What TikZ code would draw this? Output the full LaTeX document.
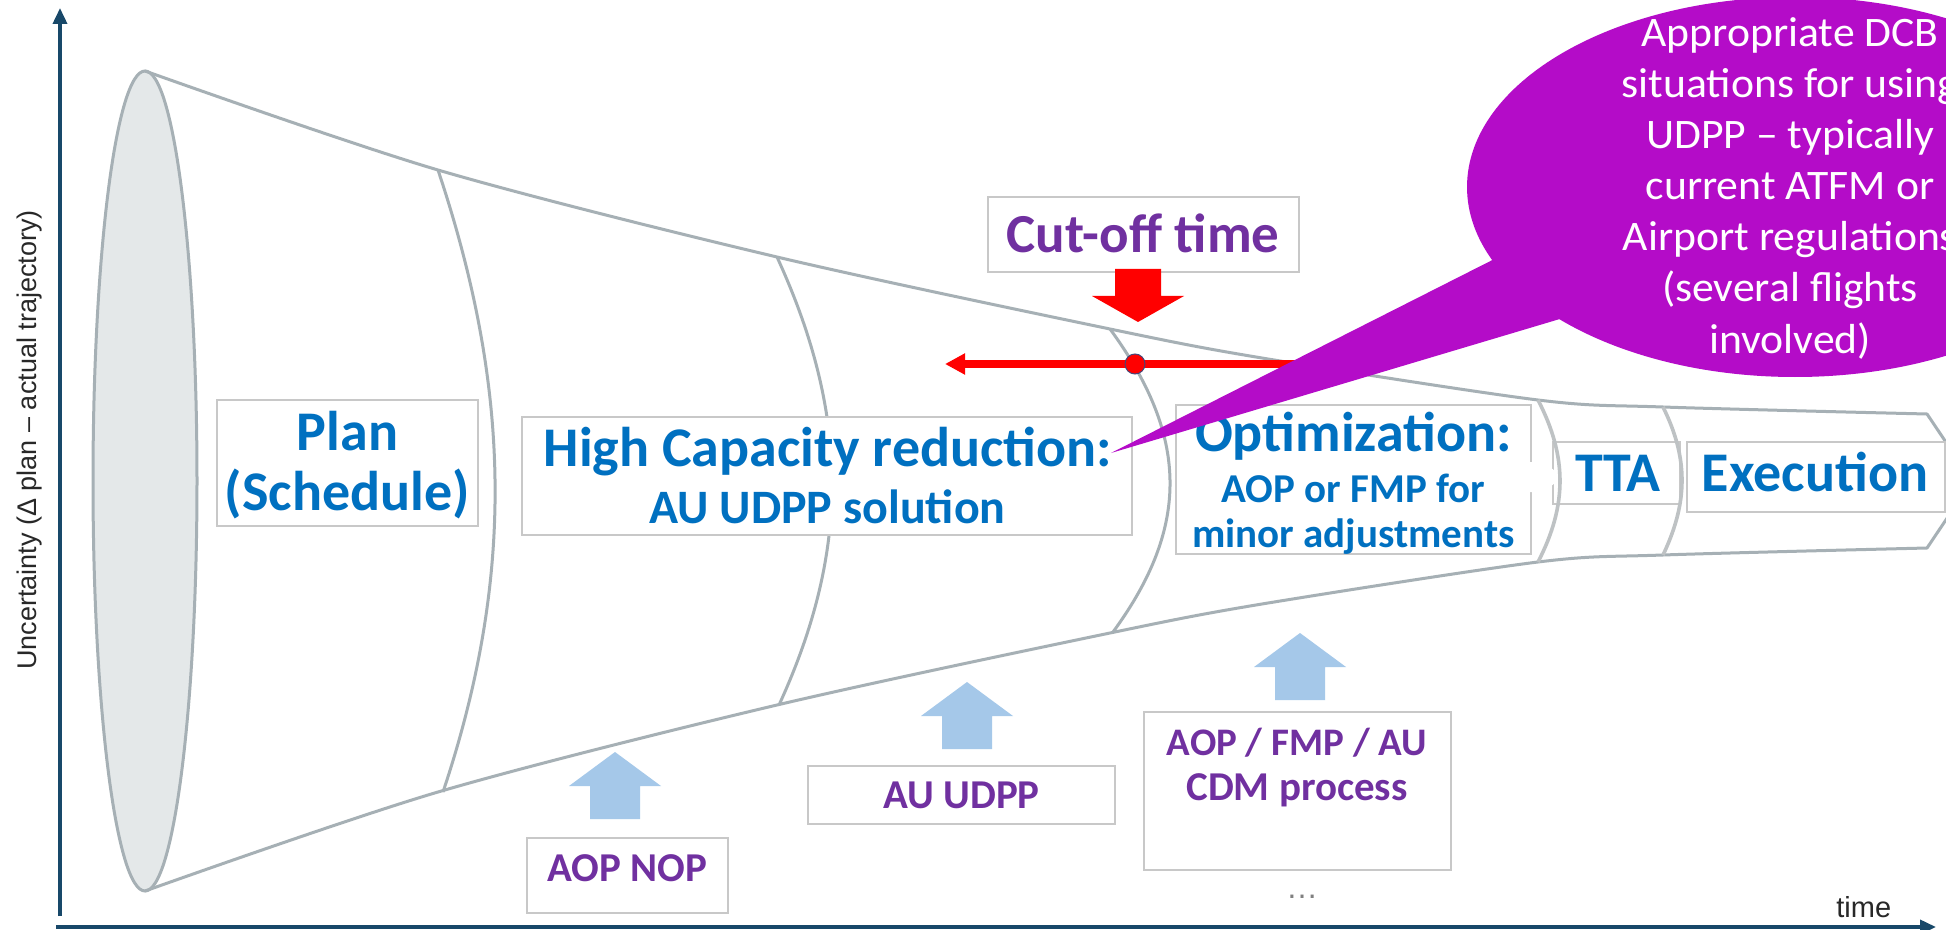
\documentclass[tikz,border=0pt]{standalone}
\usepackage{fontspec}
\setmainfont{Carlito}
\newfontfamily\axisfont{Liberation Sans}
\newfontfamily\callfont[FakeStretch=1.04]{Carlito}
\usetikzlibrary{arrows.meta,shapes.geometric,fit}

\definecolor{axisblue}{RGB}{24,72,105}
\definecolor{funnelgray}{RGB}{166,176,181}
\definecolor{ringgray}{RGB}{190,194,196}
\definecolor{mouthfill}{RGB}{228,232,233}
\definecolor{boxline}{RGB}{200,200,200}
\definecolor{labelblue}{RGB}{0,112,192}
\definecolor{labelpurple}{RGB}{112,48,160}
\definecolor{calloutpurple}{RGB}{180,12,200}
\definecolor{inputblue}{RGB}{165,200,233}
\definecolor{dotline}{RGB}{70,70,120}
\definecolor{axistext}{RGB}{40,40,40}

\begin{document}
\begin{tikzpicture}[x=0.5pt,y=-0.5pt,
  box/.style={draw=boxline, line width=0.75pt, fill=white, inner sep=0pt},
  funnel/.style={draw=funnelgray, line width=1.5pt},
  ring/.style={draw=funnelgray, line width=1.5pt},
  lightring/.style={draw=ringgray, line width=1.8pt},
  axis/.style={draw=axisblue, line width=1.8pt, -{Triangle[length=8pt,width=7pt]}},
  axislabel/.style={font=\axisfont\fontsize{13.5}{16}\selectfont, text=axistext, inner sep=0pt},
  bluebig/.style={font=\fontsize{28}{31}\selectfont\bfseries, text=labelblue, inner sep=0pt, anchor=base},
  bluemid/.style={font=\fontsize{24}{28}\selectfont\bfseries, text=labelblue, inner sep=0pt, anchor=base},
  bluesmall/.style={font=\fontsize{20.5}{24}\selectfont\bfseries, text=labelblue, inner sep=0pt, anchor=base},
  purplebig/.style={font=\fontsize{27.5}{30}\selectfont\bfseries, text=labelpurple, inner sep=0pt, anchor=base},
  purplesmall/.style={font=\fontsize{20.5}{24}\selectfont\bfseries, text=labelpurple, inner sep=0pt, anchor=base},
  calltext/.style={font=\callfont\fontsize{21}{25}\selectfont, text=white, inner sep=0pt, anchor=base},
  inarrow/.pic={\fill[inputblue] (0,0) -- (46,34) -- (25,34) -- (25,67) -- (-25,67) -- (-25,34) -- (-46,34) -- cycle;}
]
\useasboundingbox (0,0) rectangle (1946,930);
\fill[white] (0,0) rectangle (1946,930);
\clip (0,0) rectangle (1946,930);

% funnel mouth and outline
\node[ellipse, draw=funnelgray, line width=1.5pt, fill=mouthfill, minimum width=52pt, minimum height=410pt, inner sep=0pt] (mouth) at (145,481) {};
\draw[funnel, line join=round]
  plot[smooth] coordinates {(145,71) (438,170) (777,257) (1110,329) (1262,358) (1538,400) (1663,407) (1927,414)}
  -- (1972,481) --
  plot[smooth] coordinates {(1927,548) (1663,555) (1538,562) (1262,604) (1110,633) (777,705) (438,792) (145,891)};

% phase dividers
\draw[ring] (438,170) .. controls (510.7,387.7) and (515.7,574.3) .. (443,792);
\draw[ring] (777,257) .. controls (849,413.8) and (851,548.2) .. (779,705);
\draw[ring] (1110,329) .. controls (1188,435.4) and (1191,525.6) .. (1113,632);

% phase boxes
\node[box, fit={(217,400) (478,526)}] (planbox) {};
\node[box, fit={(522,417) (1132,535)}] (hcrbox) {};
\node[box, fit={(988,197) (1299,272)}] (cutbox) {};
\node[box, fit={(1176,405) (1531,554)}] (optbox) {};
\node[box, fit={(1553,442) (1680,504)}] (ttabox) {};
\node[box, fit={(1687,442) (1945,512)}] (execbox) {};
\node[box, fit={(527,838) (728,913)}] (nopbox) {};
\node[box, fit={(808,766) (1115,824)}] (udppbox) {};
\node[box, fit={(1144,712) (1451,870)}] (cdmbox) {};

% later dividers and the small white notch
\fill[white] (1524,462) -- (1545,462) -- (1561,477) -- (1545,492) -- (1524,492) -- cycle;
\draw[lightring] (1538,400) .. controls (1567.3,456.7) and (1567.3,505.3) .. (1538,562);
\draw[lightring] (1663,407) .. controls (1688.3,458.1) and (1688.3,501.9) .. (1663,555);
\fill[white] (1530,464) -- (1545,464) -- (1557,477) -- (1545,490) -- (1530,490) -- cycle;

% phase labels
\node[bluebig] (plan1) at (347.5,450) {Plan};
\node[bluebig] (plan2) at (347.5,510) {(Schedule)};
\node[bluebig] (hcr1) at (828,466.5) {High Capacity reduction:};
\node[bluemid] (hcr2) at (827.5,523) {AU UDPP solution};
\node[bluebig] (opt1) at (1353.5,451) {Optimization:};
\node[bluesmall] (opt2) at (1353.5,502) {AOP or FMP for};
\node[bluesmall] (opt3) at (1353.5,547) {minor adjustments};
\node[bluebig] (tta) at (1618,491.5) {TTA};
\node[bluebig] (exec) at (1815,491.5) {Execution};
\node[purplebig] (cut) at (1143,253) {Cut-off time};
\node[purplesmall] (nop) at (627.5,881.5) {AOP NOP};
\node[purplesmall] (udpp) at (961.5,808) {AU UDPP};
\node[purplesmall, font=\fontsize{19.5}{24}\selectfont\bfseries] (cdm1) at (1297,755) {AOP / FMP / AU};
\node[purplesmall] (cdm2) at (1297,800) {CDM process};
\node[font=\axisfont\fontsize{16}{16}\selectfont, text=gray, inner sep=0pt, anchor=base] (more) at (1302,898) {…};

% input arrows
\pic (in1) at (615,752) {inarrow};
\pic (in2) at (967,682) {inarrow};
\pic (in3) at (1300,633) {inarrow};

% cut-off marker
\fill[red] (1138,322) -- (1184,296) -- (1161,296) -- (1161,269) -- (1115,269) -- (1115,296) -- (1092,296) -- cycle;
\coordinate (cutR) at (1300,364);
\coordinate (cutL) at (945,364);
\draw[red, line width=4pt, -{Triangle[length=10pt,width=10pt]}] (cutR) -- (cutL);
\node[circle, fill=red, draw=dotline, line width=0.5pt, minimum size=10pt, inner sep=0pt] (cutdot) at (1135,364) {};

% callout
\node[ellipse, fill=calloutpurple, minimum width=328pt, minimum height=190pt, inner sep=0pt] (callout) at (1795,187) {};
\coordinate (calltip) at (1111,453);
\fill[calloutpurple] (calltip) -- (1530,241) -- (1600,307) -- cycle;
\foreach \t [count=\i] in {{Appropriate DCB}, {situations for using}, {UDPP – typically}, {current ATFM or}, {Airport regulations}, {(several flights}, {involved)}}
  \node[calltext] (call\i) at (1790,{47+51*(\i-1)}) {\t};

% axes
\coordinate (yB) at (60,916);
\coordinate (yT) at (60,8);
\coordinate (xL) at (56,927);
\coordinate (xR) at (1936,927);
\draw[axis] (yB) -- (yT);
\draw[axis] (xL) -- (xR);
\node[axislabel, rotate=90] (ylbl) at (30,440) {Uncertainty (Δ plan – actual trajectory)};
\node[axislabel, font=\axisfont\fontsize{14.5}{16}\selectfont, anchor=base west] (tlbl) at (1836,917) {time};
\end{tikzpicture}
\end{document}
